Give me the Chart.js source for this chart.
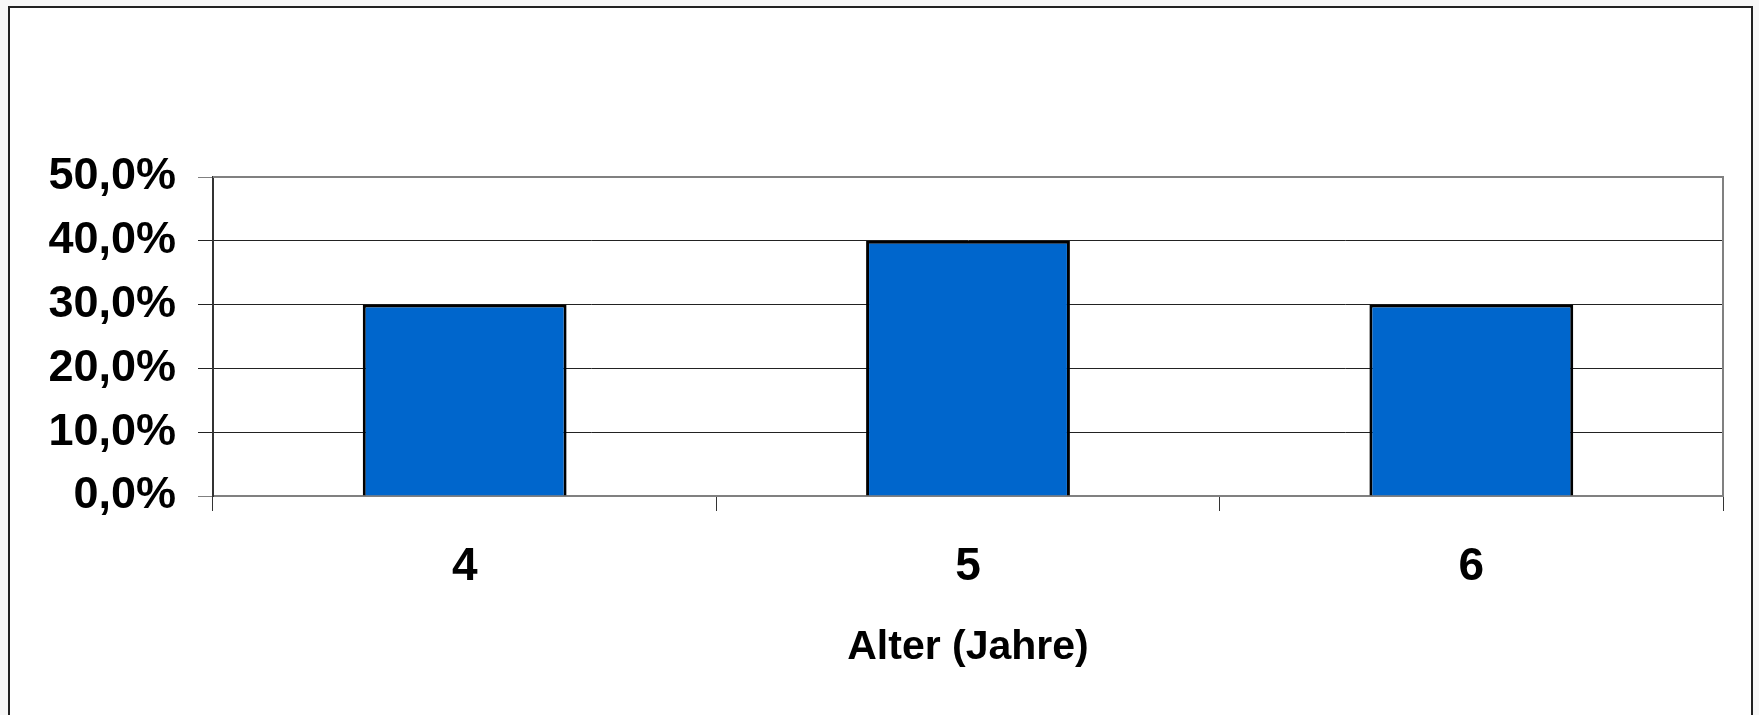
<!DOCTYPE html>
<html>
<head>
<meta charset="utf-8">
<script src="https://cdn.jsdelivr.net/npm/chart.js@4/dist/chart.umd.min.js"></script>
<style>
  html, body { margin: 0; padding: 0; background: #f7f7f7; }
  #frame {
    position: absolute; left: 8px; top: 6px; width: 1745px; height: 730px;
    background: #fff; border: 2px solid #222; box-sizing: border-box;
  }
  #wrap { position: absolute; left: 0; top: 0; width: 1759px; height: 715px; }
</style>
</head>
<body>
<div id="frame"></div>
<div id="wrap"><canvas id="ageChart"></canvas></div>
<script>
const categories = ['4', '5', '6'];
const shares = [30, 40, 30];
const yTickLabels = ['0,0%', '10,0%', '20,0%', '30,0%', '40,0%', '50,0%'];
const axisTitle = 'Alter (Jahre)';

const fontFamily = "'Liberation Sans', Arial, sans-serif";

// gray top and right edge of the plot area
const plotBorder = {
  id: 'plotBorder',
  beforeDatasetsDraw(chart) {
    const a = chart.chartArea;
    const ctx = chart.ctx;
    ctx.save();
    ctx.strokeStyle = '#808080';
    ctx.lineWidth = 2;
    ctx.beginPath();
    ctx.moveTo(a.left, a.top);
    ctx.lineTo(a.right, a.top);
    ctx.lineTo(a.right, a.bottom);
    ctx.stroke();
    ctx.restore();
  }
};

new Chart(document.getElementById('ageChart'), {
  type: 'bar',
  data: {
    labels: categories,
    datasets: [{
      data: shares,
      backgroundColor: '#0066cc',
      borderColor: '#000',
      borderWidth: 3,
      categoryPercentage: 1,
      barPercentage: 0.405
    }]
  },
  options: {
    responsive: true,
    maintainAspectRatio: false,
    animation: false,
    layout: { padding: { top: 177, right: 36, left: 0, bottom: 0 } },
    plugins: {
      legend: { display: false },
      tooltip: { enabled: false }
    },
    scales: {
      x: {
        grid: {
          offset: true,
          drawOnChartArea: false,
          tickLength: 15,
          color: '#333'
        },
        border: { color: '#808080', width: 2 },
        ticks: {
          color: '#000',
          padding: 29,
          font: { family: fontFamily, size: 46, weight: 'bold' }
        },
        title: {
          display: true,
          text: axisTitle,
          color: '#000',
          padding: { top: 0, bottom: 43 },
          font: { family: fontFamily, size: 41, weight: 'bold' }
        },
        afterFit(scale) { scale.height = 219; }
      },
      y: {
        min: 0,
        max: 50,
        ticks: {
          stepSize: 10,
          color: '#000',
          padding: 22,
          font: { family: fontFamily, size: 45, weight: 'bold' },
          callback: function (value) {
            return yTickLabels[Math.round(value / 10)];
          }
        },
        grid: {
          tickLength: 15,
          color: function (ctx) {
            const v = ctx.tick ? ctx.tick.value : 0;
            return (v === 0 || v === 50) ? '#808080' : '#222';
          }
        },
        border: { color: '#333', width: 2 },
        afterFit(scale) { scale.width = 213; }
      }
    }
  },
  plugins: [plotBorder]
});
</script>
</body>
</html>
